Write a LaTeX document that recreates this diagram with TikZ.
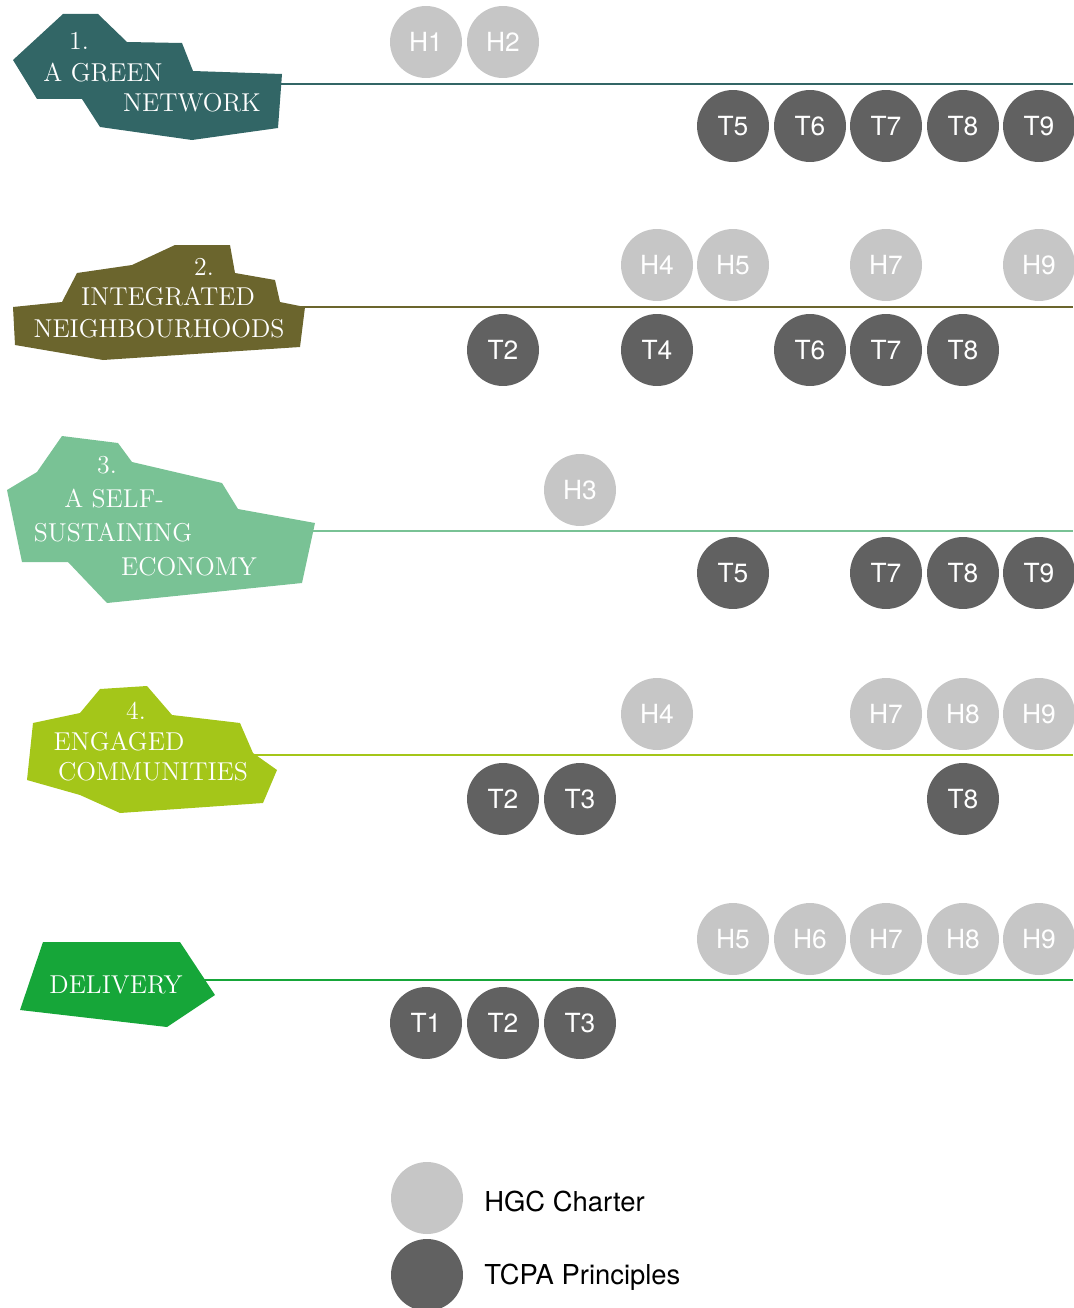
\documentclass[tikz,border=0pt]{standalone}
\usepackage{fontspec}
\newfontfamily\heros{TeX Gyre Heros}
\usepackage{tikz}
\definecolor{netteal}{RGB}{50,102,102}
\definecolor{nbolive}{RGB}{107,101,45}
\definecolor{ecomint}{RGB}{121,194,149}
\definecolor{comlime}{RGB}{164,198,25}
\definecolor{delgreen}{RGB}{22,166,57}
\definecolor{hgcgrey}{RGB}{198,198,198}
\definecolor{tcpagrey}{RGB}{97,97,97}
\tikzset{
   hgc/.style={circle, fill=hgcgrey, text=white, minimum size=1.44cm, inner sep=0pt,
               font=\heros\fontsize{15}{18}\selectfont},
   tcpa/.style={hgc, fill=tcpagrey},
   theme/.style={anchor=base, inner sep=0pt, text=white,
                 font={\fontsize{14.7}{17}\selectfont\addfontfeature{LetterSpace=3.5}}},
   key/.style={anchor=base west, inner sep=0pt, font=\heros\fontsize{15.6}{18}\selectfont},
   rule/.style={line width=1.3pt}
}
\begin{document}
\begin{tikzpicture}[x=0.02cm,y=-0.02cm]
\useasboundingbox (0,0) rectangle (1073,1308);
\coordinate (l1s) at (270,84);
\coordinate (l1e) at (1073,84);
\coordinate (l2s) at (295,307);
\coordinate (l2e) at (1073,307);
\coordinate (l3s) at (305,531);
\coordinate (l3e) at (1073,531);
\coordinate (l4s) at (250,755);
\coordinate (l4e) at (1073,755);
\coordinate (l5s) at (200,980);
\coordinate (l5e) at (1073,980);
\draw[rule, netteal] (l1s) -- (l1e);
\draw[rule, nbolive] (l2s) -- (l2e);
\draw[rule, ecomint] (l3s) -- (l3e);
\draw[rule, comlime] (l4s) -- (l4e);
\draw[rule, delgreen] (l5s) -- (l5e);
\fill[netteal] (13,60) -- (37,99) -- (82,99) -- (100,127) -- (192,140) -- (278,128) -- (282,74) -- (193,71) -- (182,43) -- (127,42) -- (98,14) -- (63,14) -- cycle;
\fill[nbolive] (175,245) -- (230,245) -- (235,273) -- (275,280) -- (280,302) -- (305,307) -- (300,347) -- (103,360) -- (15,345) -- (13,307) -- (62,302) -- (77,273) -- (132,265) -- cycle;
\fill[ecomint] (62,436) -- (118,443) -- (132,462) -- (222,483) -- (238,509) -- (315,523) -- (302,583) -- (107,603) -- (68,562) -- (22,562) -- (7,490) -- (37,472) -- cycle;
\fill[comlime] (100,689) -- (147,686) -- (172,715) -- (240,723) -- (253,753) -- (277,770) -- (263,803) -- (120,813) -- (80,795) -- (27,780) -- (33,723) -- (80,713) -- cycle;
\fill[delgreen] (43,942) -- (180,942) -- (215,995) -- (167,1027) -- (20,1010) -- cycle;
\node[theme] (n1) at (79,50) {1.};
\node[theme] (agreen) at (103,82) {A GREEN};
\node[theme] (network) at (192,112) {NETWORK};
\node[theme] (n2) at (204,275) {2.};
\node[theme] (integ) at (168,305) {INTEGRATED};
\node[theme] (neigh) at (159,337) {NEIGHBOURHOODS};
\node[theme] (n3) at (107,473) {3.};
\node[theme] (aself) at (114,507) {A SELF-};
\node[theme] (sustain) at (113,541) {SUSTAINING};
\node[theme] (economy) at (189,575) {ECONOMY};
\node[theme] (n4) at (136,719) {4.};
\node[theme] (engaged) at (119,750) {ENGAGED};
\node[theme] (communities) at (153,780) {COMMUNITIES};
\node[theme] (delivery) at (116,993) {DELIVERY};
\node[hgc] (r1h1) at (426,42) {H1};
\node[hgc] (r1h2) at (503,42) {H2};
\node[tcpa] (r1t5) at (733,126) {T5};
\node[tcpa] (r1t6) at (810,126) {T6};
\node[tcpa] (r1t7) at (886,126) {T7};
\node[tcpa] (r1t8) at (963,126) {T8};
\node[tcpa] (r1t9) at (1039,126) {T9};
\node[hgc] (r2h4) at (657,265) {H4};
\node[hgc] (r2h5) at (733,265) {H5};
\node[hgc] (r2h7) at (886,265) {H7};
\node[hgc] (r2h9) at (1039,265) {H9};
\node[tcpa] (r2t2) at (503,350) {T2};
\node[tcpa] (r2t4) at (657,350) {T4};
\node[tcpa] (r2t6) at (810,350) {T6};
\node[tcpa] (r2t7) at (886,350) {T7};
\node[tcpa] (r2t8) at (963,350) {T8};
\node[hgc] (r3h3) at (580,490) {H3};
\node[tcpa] (r3t5) at (733,573) {T5};
\node[tcpa] (r3t7) at (886,573) {T7};
\node[tcpa] (r3t8) at (963,573) {T8};
\node[tcpa] (r3t9) at (1039,573) {T9};
\node[hgc] (r4h4) at (657,714) {H4};
\node[hgc] (r4h7) at (886,714) {H7};
\node[hgc] (r4h8) at (963,714) {H8};
\node[hgc] (r4h9) at (1039,714) {H9};
\node[tcpa] (r4t2) at (503,799) {T2};
\node[tcpa] (r4t3) at (580,799) {T3};
\node[tcpa] (r4t8) at (963,799) {T8};
\node[hgc] (r5h5) at (733,939) {H5};
\node[hgc] (r5h6) at (810,939) {H6};
\node[hgc] (r5h7) at (886,939) {H7};
\node[hgc] (r5h8) at (963,939) {H8};
\node[hgc] (r5h9) at (1039,939) {H9};
\node[tcpa] (r5t1) at (426,1023) {T1};
\node[tcpa] (r5t2) at (503,1023) {T2};
\node[tcpa] (r5t3) at (580,1023) {T3};
\node[hgc] (keyh) at (427,1198) {};
\node[tcpa] (keyt) at (427,1275) {};
\node[key] (keyhtext) at (484,1211) {HGC Charter};
\node[key] (keyttext) at (484,1284) {TCPA Principles};
\end{tikzpicture}
\end{document}
